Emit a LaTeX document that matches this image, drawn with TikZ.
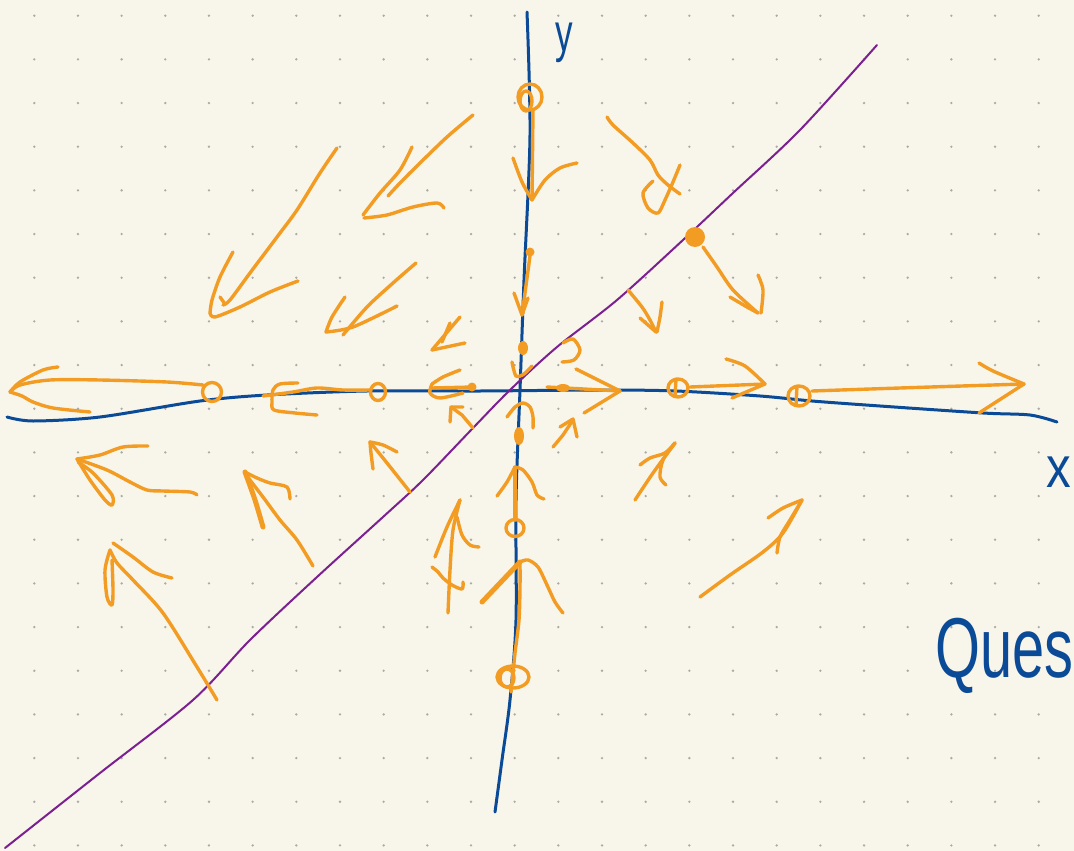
\documentclass[tikz,border=0pt]{standalone}
\usepackage{fontspec}
\newfontfamily\handfont{Liberation Sans}
\definecolor{paper}{HTML}{F8F6EA}
\definecolor{dotc}{HTML}{ABABA6}
\definecolor{orc}{HTML}{F39C24}
\definecolor{blc}{HTML}{0B4A96}
\definecolor{puc}{HTML}{7A2090}
\begin{document}
\begin{tikzpicture}[x=1pt,y=-1pt,
  or/.style={draw=orc, line width=3.4pt, line cap=round, line join=round},
  orf/.style={fill=orc},
  bl/.style={draw=blc, line width=3pt, line cap=round, line join=round},
  pu/.style={draw=puc, line width=2pt, line cap=round},
  lab/.style={text=blc, inner sep=0pt}]
\fill[paper] (0,0) rectangle (1074,851);
\useasboundingbox (0,0) rectangle (1074,851);
% dot grid
\foreach \i in {0,...,23}{\foreach \j in {0,...,19}{\fill[dotc] ({34.3+43.67*\i},{15.7+43.67*\j}) circle (1.3);}}
% axes
\draw[bl] plot[smooth] coordinates {(527,12) (530,135) (524,280) (520,390) (516,500) (516,620) (510,700) (502,760) (495,812)};
\draw[bl] plot[smooth] coordinates {(7,417) (33,421) (100,417) (200,401) (267,395) (367,391) (480,391) (600,390) (676,391) (760,396) (812,401) (880,406) (983,413) (1030,415) (1057,422)};
% purple line
\draw[pu] plot[smooth] coordinates {(5,848) (100,773) (193,700) (250,640) (317,577) (383,517) (423,480) (473,428) (510,390) (557,347) (617,300) (683,240) (733,193) (800,130) (877,45)};
% labels
\node[lab, font=\handfont\fontsize{54}{54}\selectfont, xscale=0.65, anchor=base] (ylab) at (564,52) {y};
\node[lab, font=\handfont\fontsize{58}{58}\selectfont, xscale=0.85, anchor=base west] (xlab) at (1046,487) {x};
\node[lab, font=\handfont\fontsize{85}{85}\selectfont, xscale=0.68, anchor=base west] (qlab) at (935,677) {Ques};
% ---- orange field ----
% top circle and down arrow
\draw[or] (530,97) ellipse [x radius=12, y radius=13];
\draw[or] (526,101) ellipse [x radius=6, y radius=10];
\draw[or] (533,110) -- (532,200);
\draw[or] plot[smooth] coordinates {(513,158) (522,182) (532,200)};
\draw[or] plot[smooth] coordinates {(532,200) (545,180) (560,168) (577,163)};
% dot and down arrow
\fill[orf] (530,252) circle (4.5);
\draw[or] (530,256) -- (522,315);
\draw[or] (514,293) -- (522,315) -- (528,298);
% blob near centre
\fill[orf] (523,348) ellipse [x radius=5, y radius=7];
\draw[or] plot[smooth] coordinates {(512,362) (516,376) (524,374) (532,366)};
\draw[or] plot[smooth] coordinates {(563,343) (573,339) (580,350) (574,360) (562,362)};
% right arrows on x-axis
\fill[orf] (563,388) ellipse [x radius=7, y radius=4];
\draw[or] (547,387) -- (620,391);
\draw[or] (576,369) -- (620,391) -- (584,413);
\draw[or] (678,388) ellipse [x radius=10, y radius=9];
\draw[or] (676,379) -- (675,396);
\draw[or] (690,387) -- (765,384);
\draw[or] plot[smooth] coordinates {(726,359) (745,366) (765,384)};
\draw[or] (732,398) -- (765,384);
\draw[or] (799,396) ellipse [x radius=11, y radius=10];
\draw[or] (797,386) -- (796,405);
\draw[or] plot[smooth] coordinates {(812,391) (900,388) (1024,384)};
\draw[or] plot[smooth] coordinates {(979,363) (993,371) (1024,384)};
\draw[or] (979,413) -- (1024,384);
% left arrows on x-axis
\draw[or] (212,392) ellipse [x radius=9.5, y radius=9.5];
\draw[or] plot[smooth] coordinates {(203,385) (167,382) (100,380) (50,380) (20,385) (10,392)};
\draw[or] plot[smooth] coordinates {(58,367) (43,370) (20,382) (10,392)};
\draw[or] plot[smooth] coordinates {(10,392) (22,396) (33,402) (53,408) (90,412)};
\draw[or] (378,392) ellipse [x radius=7.5, y radius=8.5];
\draw[or] plot[smooth] coordinates {(371,390) (343,390) (317,388) (293,392) (263,396)};
\draw[or] plot[smooth] coordinates {(298,383) (280,384) (273,390) (272,402) (274,410) (295,413) (317,415)};
\fill[orf] (472,387) circle (4.5);
\draw[or] (473,387) -- (432,388);
\draw[or] plot[smooth] coordinates {(460,370) (443,377) (432,384)};
\draw[or] plot[smooth] coordinates {(432,384) (430,393) (440,398) (463,393)};
\draw[or] (473,428) -- (462,415) -- (451,407);
\draw[or] (450,422) -- (451,407) -- (463,407);
% upper left
\draw[or] plot[smooth] coordinates {(337,148) (320,173) (297,210) (277,237) (250,273) (230,300) (223,305)};
\draw[or] plot[smooth] coordinates {(233,252) (220,277) (212,300) (210,313)};
\draw[or] plot[smooth] coordinates {(210,313) (215,317) (240,307) (270,292) (298,281)};
\draw[or] (220,297) -- (225,304);
\draw[or] plot[smooth] coordinates {(473,115) (447,137) (420,163) (400,183) (388,196)};
\draw[or] plot[smooth] coordinates {(412,147) (400,170) (380,193) (363,215)};
\draw[or] plot[smooth] coordinates {(364,218) (387,215) (413,207) (437,203) (444,208)};
\draw[or] plot[smooth] coordinates {(416,263) (393,283) (367,307) (343,335)};
\draw[or] plot[smooth] coordinates {(345,297) (332,317) (326,332)};
\draw[or] plot[smooth] coordinates {(326,332) (353,327) (397,306)};
\draw[or] (460,317) -- (432,350);
\draw[or] (450,323) -- (442,342);
\draw[or] (432,350) -- (465,343);
% upper right
\draw[or] plot[smooth] coordinates {(607,117) (613,125) (633,143) (650,160) (658,175) (668,185) (680,194)};
\draw[or] plot[smooth] coordinates {(680,165) (673,182) (665,200) (658,213) (648,208) (643,193) (653,181)};
\fill[orf] (695,237) circle (10);
\draw[or] plot[smooth] coordinates {(703,247) (717,267) (733,290) (758,313)};
\draw[or] plot[smooth] coordinates {(730,297) (747,307) (758,313)};
\draw[or] plot[smooth] coordinates {(758,275) (763,290) (761,313)};
\draw[or] plot[smooth] coordinates {(628,290) (642,307) (650,320) (656,332)};
\draw[or] (640,318) -- (656,332);
\draw[or] plot[smooth] coordinates {(662,302) (660,317) (657,332)};
% lower left
\draw[or] plot[smooth] coordinates {(197,495) (190,492) (163,491) (147,490) (130,482) (107,470) (77,459)};
\draw[or] plot[smooth] coordinates {(77,459) (100,455) (123,447) (148,446)};
\draw[or] plot[smooth] coordinates {(77,459) (90,480) (105,500) (112,505) (112,495) (93,473) (78,462)};
\draw[or] plot[smooth] coordinates {(217,700) (197,667) (163,613) (133,580) (117,563) (110,550)};
\draw[or] plot[smooth] coordinates {(113,543) (133,557) (153,572) (172,578)};
\draw[or] plot[smooth] coordinates {(110,550) (105,570) (107,597) (112,605) (113,590) (112,560)};
\draw[or] plot[smooth] coordinates {(313,566) (297,540) (280,520) (263,497) (250,480) (245,472)};
\draw[or, line width=5pt] plot[smooth] coordinates {(245,472) (255,500) (263,527)};
\draw[or] plot[smooth] coordinates {(245,472) (257,478) (270,483) (287,487) (290,499)};
\draw[or] plot[smooth] coordinates {(410,492) (387,463) (370,442)};
\draw[or] plot[smooth] coordinates {(370,442) (371,453) (373,469)};
\draw[or] plot[smooth] coordinates {(370,442) (383,445) (397,452)};
% lower centre
\draw[or] plot[smooth] coordinates {(448,613) (450,570) (453,530) (460,500)};
\draw[or] plot[smooth] coordinates {(460,500) (447,527) (435,557)};
\draw[or] plot[smooth] coordinates {(457,517) (462,535) (470,545) (479,547)};
\draw[or] plot[smooth] coordinates {(432,567) (438,572) (443,578) (452,585) (462,589) (463,582)};
\draw[or] plot[smooth] coordinates {(497,496) (507,482) (515,467)};
\draw[or] plot[smooth] coordinates {(515,467) (523,470) (532,482) (537,495) (544,499)};
\draw[or] (515,467) -- (515,520);
\draw[or] (515,528) ellipse [x radius=9, y radius=8.5];
\fill[orf] (519,436) ellipse [x radius=5, y radius=9];
\draw[or] plot[smooth] coordinates {(507,417) (515,407) (523,403) (530,407) (533,417) (533,428)};
\draw[or] plot[smooth] coordinates {(520,562) (520,587) (519,620) (515,653) (513,673) (511,692)};
\draw[or, line width=5pt] (520,562) -- (482,602);
\draw[or] plot[smooth] coordinates {(520,562) (528,560) (538,567) (547,585) (555,602) (563,613)};
\draw[or] (513,677) ellipse [x radius=16, y radius=11];
\draw[or] (507,678) ellipse [x radius=7, y radius=9];
% lower right
\draw[or] (553,447) -- (563,435) -- (573,420);
\draw[or] (560,427) -- (573,419) -- (577,437);
\draw[or] plot[smooth] coordinates {(635,500) (653,473) (675,443)};
\draw[or] plot[smooth] coordinates {(640,465) (650,458) (665,453) (675,443)};
\draw[or] plot[smooth] coordinates {(675,443) (663,460) (660,477) (666,485)};
\draw[or] plot[smooth] coordinates {(700,597) (730,575) (763,552) (783,533) (802,500)};
\draw[or] plot[smooth] coordinates {(768,518) (783,508) (802,500)};
\draw[or] plot[smooth] coordinates {(802,500) (790,520) (780,537) (777,553)};
\end{tikzpicture}
\end{document}
